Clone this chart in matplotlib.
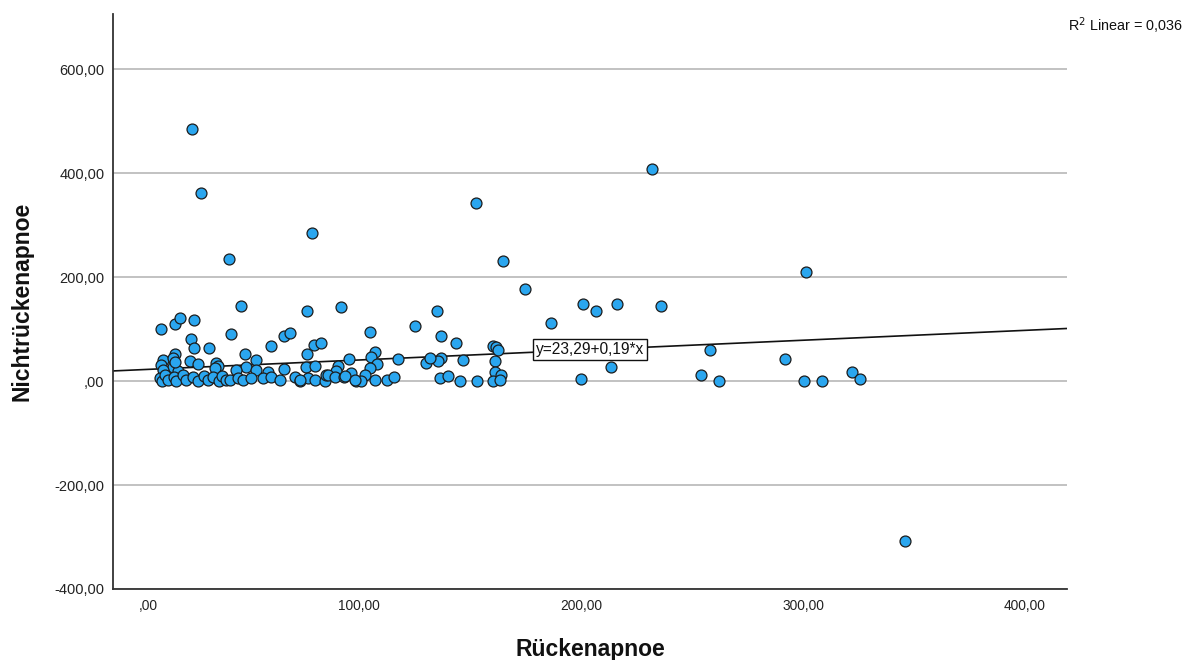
import matplotlib
matplotlib.use("Agg")
import matplotlib.pyplot as plt
from matplotlib import font_manager as fm
import numpy as np

# ---------------- data ----------------
rueckenapnoe = [
    1.5, 7.5, 9.8, 16.2, 15.0, 16.2, 22.8, 7.5, 2.3, 6.8, 14.3, 18.0, 26.3, 27.0, 1.5, 6.8,
    2.3, 9.0, 25.5, 0.9, 1.8, 3.2, 4.5, 7.2, 8.1, 11.3, 12.6, 15.8, 18.0, 20.7, 22.5, 24.8,
    27.5, 28.8, 30.6, 15.3, 19.2, 31.8, 69.5, 37.5, 67.3, 82.2, 32.7, 56.8, 59.3, 51.0,
    70.3, 73.3, 67.3, 39.3, 44.3, 56.8, 66.8, 70.9, 39.8, 44.3, 35.3, 49.5, 32.3, 36.0,
    38.3, 42.0, 47.3, 51.0, 54.8, 61.6, 63.8, 67.6, 70.6, 75.1, 75.8, 95.4, 115.9, 97.6,
    95.8, 85.9, 108.1, 98.8, 81.1, 120.7, 95.4, 80.3, 87.1, 76.6, 79.9, 83.8, 93.4, 89.3,
    91.5, 97.6, 103.3, 106.3, 125.8, 127.6, 134.4, 150.9, 152.4, 153.2, 127.6, 126.1,
    122.4, 137.4, 151.7, 151.7, 154.6, 126.9, 130.6, 135.9, 143.8, 150.9, 153.9, 143.1,
    155.5, 165.3, 176.9, 191.3, 197.3, 206.8, 222.4, 226.4, 204.1, 190.4, 292.0, 248.6,
    282.4, 244.6, 252.6, 291.1, 299.0, 312.5, 316.4, 336.5, 84.2, 7.5, 64.0, 88.7,
]
nichtrueckenapnoe = [
    99.4, 109.6, 120.6, 117.9, 80.2, 64.0, 64.0, 51.3, 40.4, 44.2, 38.5, 32.1, 34.0, 29.4, 30.8, 27.5,
    21.2, 19.2, 24.4, 5.8, 0.0, 11.5, 1.9, 7.7, 0.0, 11.5, 1.9, 7.7, 0.0, 9.6, 1.9, 7.7,
    0.0, 9.6, 1.9, 484.6, 361.0, 235.2, 284.0, 144.2, 135.2, 143.3, 89.8, 87.1, 92.3, 66.7,
    69.2, 72.5, 51.9, 51.3, 40.4, 22.5, 27.5, 28.8, 27.5, 21.2, 21.2, 17.9, 1.9, 5.2,
    1.9, 5.2, 6.3, 8.3, 1.9, 8.3, 0.0, 5.2, 1.9, 0.0, 11.5, 94.8, 106.3, 56.3,
    46.7, 42.3, 41.7, 32.7, 29.4, 34.0, 25.6, 19.2, 14.8, 11.5, 8.3, 8.3, 11.5, 0.0,
    0.0, 1.9, 1.9, 8.3, 134.6, 87.1, 73.7, 67.3, 66.0, 59.6, 44.8, 38.5,
    43.7, 40.4, 39.0, 17.9, 11.5, 5.2, 10.2, 0.0, 0.0, 0.0, 1.9, 342.9,
    230.2, 177.5, 112.1, 148.7, 135.2, 148.1, 407.1, 143.7, 26.3, 4.4, 209.0, 59.6,
    42.9, 11.0, 0.6, 0.6, 0.6, 17.3, 3.3, -307.7, 9.6, 37.1, 1.9, 1.9,
]
fit_intercept = 23.29
fit_slope = 0.19
r2_linear = "0,036"
fit_label = "y=23,29+0,19*x"
x_ticks = [0, 100, 200, 300, 400]
x_tick_labels = [",00", "100,00", "200,00", "300,00", "400,00"]
y_ticks = [-400, -200, 0, 200, 400, 600]
y_tick_labels = ["-400,00", "-200,00", ",00", "200,00", "400,00", "600,00"]
x_title = "Rückenapnoe"
y_title = "Nichtrückenapnoe"

# ---------------- fonts ----------------
avail = {f.name for f in fm.fontManager.ttflist}
base = "Liberation Sans" if "Liberation Sans" in avail else "DejaVu Sans"
plt.rcParams["font.family"] = [base, "DejaVu Sans"]

narrow_path = None
for f in fm.fontManager.ttflist:
    if f.name == "Liberation Sans Narrow" and f.style == "normal" and f.weight in (400, "normal", "regular"):
        narrow_path = f.fname
        break


def nfont(size):
    if narrow_path:
        return fm.FontProperties(fname=narrow_path, size=size)
    return fm.FontProperties(family=[base, "DejaVu Sans"], size=size * 0.86)


# ---------------- figure ----------------
fig = plt.figure(figsize=(11.97, 6.60), dpi=100)
ax = fig.add_axes([113 / 1197, 71 / 660, 954 / 1197, 575 / 660])

xmin, xmax = -20.3, 409.5
ax.set_xlim(xmin, xmax)
ax.set_ylim(-400, 706)

for v in y_ticks:
    ax.axhline(v, color="#bdbdbd", lw=1.3, zorder=1)

xs = np.array([xmin, xmax])
ax.plot(xs, fit_intercept + fit_slope * xs, color="#111111", lw=1.2, zorder=2)

ax.scatter(rueckenapnoe, nichtrueckenapnoe, s=62, facecolor="#2aa6ef",
           edgecolor="#1c1c1c", linewidth=0.9, zorder=3)

lx = 194.6
ax.text(lx, fit_intercept + fit_slope * lx, fit_label, ha="center", va="center",
        fontproperties=nfont(13), color="#111111", zorder=4,
        bbox=dict(boxstyle="square,pad=0.2", facecolor="white", edgecolor="#111111", lw=1.0))

for side in ["top", "right"]:
    ax.spines[side].set_visible(False)
for side in ["left", "bottom"]:
    ax.spines[side].set_color("#333333")
    ax.spines[side].set_linewidth(1.3)

ax.set_xticks(x_ticks)
ax.set_xticklabels(x_tick_labels, ha="right", fontproperties=nfont(11.5))
ax.set_yticks(y_ticks)
ax.set_yticklabels(y_tick_labels, fontsize=10.5)
ax.tick_params(axis="both", length=0, colors="#222222")
ax.tick_params(axis="x", pad=7)
ax.tick_params(axis="y", pad=6)

ax.set_xlabel(x_title, fontsize=16.5, fontweight="bold", labelpad=18, color="#111111")
ax.set_ylabel(y_title, fontsize=16.5, fontweight="bold", labelpad=15, color="#111111")

fig.text(1068 / 1197, 1 - 26 / 660, "R$^2$ Linear = " + r2_linear,
         fontproperties=nfont(12), ha="left", va="center", color="#111111")

fig.savefig("out.png", dpi=100)
